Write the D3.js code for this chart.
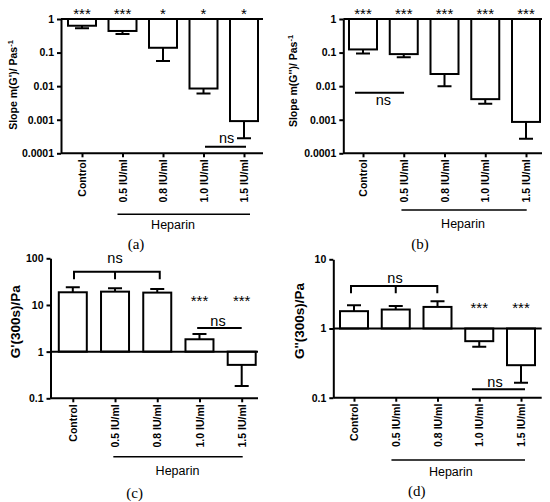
<!DOCTYPE html>
<html>
<head>
<meta charset="utf-8">
<script src="https://cdn.jsdelivr.net/npm/d3@7"></script>
<style>
	body { margin: 0; background: #fff; }
	svg { display: block; font-family: 'Liberation Sans', Arial, sans-serif; }
	.axis path, .axis line { stroke: #000; stroke-width: 2; }
	.axis text { font-size: 10.5px; font-weight: bold; fill: #000; }
	.mark { fill: #fff; stroke: #000; stroke-width: 2; }
	.err, .rule { stroke: #000; stroke-width: 2; fill: none; }
</style>
</head>
<body>
<div id="chart"></div>
<script>
var categories = [ 'Control', '0.5 IU/ml', '0.8 IU/ml', '1.0 IU/ml', '1.5 IU/ml' ];

// bar value and the far end of its error bar
var slopeG1 = [ 0.63, 0.44, 0.139, 0.0085, 0.00091 ];
var slopeG1Err = [ 0.53, 0.36, 0.056, 0.006, 0.00028 ];
var slopeG2 = [ 0.124, 0.09, 0.023, 0.0041, 0.00086 ];
var slopeG2Err = [ 0.094, 0.072, 0.01, 0.003, 0.00027 ];
var g1At300 = [ 18.7, 19.3, 18.4, 1.84, 0.52 ];
var g1At300Err = [ 24, 22.8, 22, 2.4, 0.184 ];
var g2At300 = [ 1.78, 1.88, 2.05, 0.656, 0.295 ];
var g2At300Err = [ 2.17, 2.12, 2.48, 0.543, 0.164 ];

var starsA = [ '***', '***', '*', '*', '*' ];
var starsB = [ '***', '***', '***', '***', '***' ];
var starsCD = [ '', '', '', '***', '***' ];

var slopeTicks = [ 1, 0.1, 0.01, 0.001, 0.0001 ];
var g1Ticks = [ 100, 10, 1, 0.1 ];
var g2Ticks = [ 10, 1, 0.1 ];

// ns comparisons, by category
var nsA = [ [ '1.0 IU/ml', '1.5 IU/ml' ] ];
var nsB = [ [ 'Control', '0.5 IU/ml' ] ];
var nsC = [ [ 'Control', '0.5 IU/ml', '0.8 IU/ml' ], [ '1.0 IU/ml', '1.5 IU/ml' ] ];
var nsD = [ [ 'Control', '0.5 IU/ml', '0.8 IU/ml' ], [ '1.0 IU/ml', '1.5 IU/ml' ] ];

var panels = [
	{
		tag: '(a)', values: slopeG1, errs: slopeG1Err, stars: starsA, ticks: slopeTicks, ns: nsA,
		domain: [ 0.0001, 1 ], top: 19, bottom: 153.3, axisX: 61, first: 82, last: 244, end: 263,
		label: 'Slope m(G\')/ Pas', sup: '-1', labelX: 17, labelY: 85, labelSize: 10.5,
		starY: 19,
		nsLayout: [ { y: 146.7, dx: [ 1.5, 2 ], tx: 226.7, ty: 143.3 } ],
		hep: { y: 214.3, dx: [ -5, 6 ], tx: 173, ty: 229 },
		tagPos: [ 136, 249 ]
	},
	{
		tag: '(b)', values: slopeG2, errs: slopeG2Err, stars: starsB, ticks: slopeTicks, ns: nsB,
		domain: [ 0.0001, 1 ], top: 19, bottom: 153.3, axisX: 343.3, first: 363, last: 526, end: 542,
		label: 'Slope m(G\'\')/ Pas', sup: '-1', labelX: 297, labelY: 81, labelSize: 10.5,
		starY: 19,
		nsLayout: [ { y: 92.7, dx: [ -8, 0.3 ], tx: 383.3, ty: 104.5 } ],
		hep: { y: 210, dx: [ -2.3, 0.7 ], tx: 463, ty: 227.5 },
		tagPos: [ 420, 248.5 ]
	},
	{
		tag: '(c)', values: g1At300, errs: g1At300Err, stars: starsCD, ticks: g1Ticks, ns: nsC,
		domain: [ 0.1, 100 ], top: 258.3, bottom: 398.3, axisX: 50.5, first: 72.8, last: 241.7, end: 258,
		label: 'G\'(300s)/Pa', sup: '', labelX: 20, labelY: 321.7, labelSize: 13.5,
		starY: 305.6,
		nsLayout: [
			{ y: 271.7, drop: 7.5, dx: [ 1.2, 2.5 ], tx: 115, ty: 263 },
			{ y: 328, dx: [ -2.3, 0 ], tx: 218, ty: 325.5 }
		],
		hep: { y: 456.7, dx: [ -1.7, 1 ], tx: 177.5, ty: 475 },
		tagPos: [ 134.7, 497.5 ]
	},
	{
		tag: '(d)', values: g2At300, errs: g2At300Err, stars: starsCD, ticks: g2Ticks, ns: nsD,
		domain: [ 0.1, 10 ], top: 259.3, bottom: 397.7, axisX: 333.3, first: 354, last: 521, end: 541.7,
		label: 'G\'\'(300s)/Pa', sup: '', labelX: 304, labelY: 321, labelSize: 13.5,
		starY: 312.6,
		nsLayout: [
			{ y: 286, drop: 7.3, dx: [ -3, -0.2 ], tx: 395, ty: 283 },
			{ y: 389.3, dx: [ -7.3, 4 ], tx: 495, ty: 387 }
		],
		hep: { y: 460, dx: [ -4.3, 4 ], tx: 450.8, ty: 476 },
		tagPos: [ 416.7, 496 ]
	}
];

var barWidth = 28;
var capHalf = 7;

var svg = d3.select( '#chart' ).append( 'svg' )
	.attr( 'width', 550 )
	.attr( 'height', 502 );

panels.forEach( function ( p ) {

	var x = d3.scalePoint()
		.domain( categories )
		.range( [ p.first, p.last ] );

	var y = d3.scaleLog()
		.domain( p.domain )
		.range( [ p.bottom, p.top ] );

	var g = svg.append( 'g' );

	// bars hang from 1
	g.selectAll( 'rect.mark' )
		.data( p.values )
		.enter()
		.append( 'rect' )
		.classed( 'mark', true )
		.attr( 'x', function ( d, i ) { return x( categories[i] ) - barWidth / 2; } )
		.attr( 'y', function ( d ) { return Math.min( y( d ), y( 1 ) ); } )
		.attr( 'width', barWidth )
		.attr( 'height', function ( d ) { return Math.abs( y( d ) - y( 1 ) ); } );

	g.selectAll( 'path.err' )
		.data( p.errs )
		.enter()
		.append( 'path' )
		.classed( 'err', true )
		.attr( 'd', function ( d, i ) {
			var cx = x( categories[i] );
			return 'M' + cx + ',' + y( p.values[i] ) + 'V' + y( d ) +
				'M' + ( cx - capHalf ) + ',' + y( d ) + 'H' + ( cx + capHalf );
		} );

	// line at 1
	g.append( 'line' )
		.classed( 'rule', true )
		.attr( 'x1', p.axisX )
		.attr( 'x2', p.end )
		.attr( 'y1', y( 1 ) )
		.attr( 'y2', y( 1 ) );

	var yAxis = d3.axisLeft( y )
		.tickValues( p.ticks )
		.tickFormat( function ( d ) { return String( d ); } )
		.tickSize( 4 )
		.tickSizeOuter( 0 )
		.tickPadding( 3 );

	g.append( 'g' )
		.classed( 'axis', true )
		.attr( 'transform', 'translate(' + p.axisX + ',0)' )
		.call( yAxis );

	var xAxis = d3.axisBottom( x )
		.tickSize( 4 )
		.tickSizeOuter( 0 );

	var xg = g.append( 'g' )
		.classed( 'axis', true )
		.attr( 'transform', 'translate(0,' + p.bottom + ')' )
		.call( xAxis );

	xg.select( '.domain' )
		.attr( 'd', 'M' + p.axisX + ',0H' + p.end );

	xg.selectAll( 'text' )
		.attr( 'transform', 'rotate(-90)' )
		.attr( 'x', -6 )
		.attr( 'y', 0 )
		.attr( 'dy', '0.35em' )
		.style( 'text-anchor', 'end' );

	// y label
	var lab = g.append( 'text' )
		.attr( 'transform', 'translate(' + p.labelX + ',' + p.labelY + ') rotate(-90)' )
		.attr( 'text-anchor', 'middle' )
		.style( 'font-size', p.labelSize + 'px' )
		.style( 'font-weight', 'bold' )
		.text( p.label );

	if ( p.sup ) {
		lab.append( 'tspan' )
			.attr( 'dy', -4.5 )
			.style( 'font-size', '7.5px' )
			.text( p.sup );
	}

	// significance stars
	g.selectAll( 'text.star' )
		.data( p.stars )
		.enter()
		.append( 'text' )
		.classed( 'star', true )
		.attr( 'x', function ( d, i ) { return x( categories[i] ); } )
		.attr( 'y', p.starY )
		.attr( 'text-anchor', 'middle' )
		.style( 'font-size', '15px' )
		.text( function ( d ) { return d; } );

	// ns lines and brackets
	p.ns.forEach( function ( cats, k ) {
		var lay = p.nsLayout[k];
		var x0 = x( cats[0] ) + lay.dx[0];
		var x1 = x( cats[cats.length - 1] ) + lay.dx[1];
		var d = 'M' + x0 + ',' + lay.y + 'H' + x1;
		if ( lay.drop ) {
			d = 'M' + x0 + ',' + ( lay.y + lay.drop ) + 'V' + lay.y + 'H' + x1 + 'V' + ( lay.y + lay.drop );
			cats.slice( 1, -1 ).forEach( function ( c ) {
				d += 'M' + x( c ) + ',' + lay.y + 'V' + ( lay.y + lay.drop );
			} );
		}
		g.append( 'path' )
			.classed( 'rule', true )
			.attr( 'd', d );
		g.append( 'text' )
			.attr( 'x', lay.tx )
			.attr( 'y', lay.ty )
			.attr( 'text-anchor', 'middle' )
			.style( 'font-size', '14.5px' )
			.text( 'ns' );
	} );

	// heparin group
	g.append( 'line' )
		.classed( 'rule', true )
		.style( 'stroke-width', 1.5 )
		.attr( 'x1', x( '0.5 IU/ml' ) + p.hep.dx[0] )
		.attr( 'x2', x( '1.5 IU/ml' ) + p.hep.dx[1] )
		.attr( 'y1', p.hep.y )
		.attr( 'y2', p.hep.y );

	g.append( 'text' )
		.attr( 'x', p.hep.tx )
		.attr( 'y', p.hep.ty )
		.attr( 'text-anchor', 'middle' )
		.style( 'font-size', '12.5px' )
		.text( 'Heparin' );

	g.append( 'text' )
		.attr( 'x', p.tagPos[0] )
		.attr( 'y', p.tagPos[1] )
		.attr( 'text-anchor', 'middle' )
		.style( 'font-family', '\'Liberation Serif\', \'Times New Roman\', serif' )
		.style( 'font-size', '15px' )
		.text( p.tag );

} );
</script>
</body>
</html>
